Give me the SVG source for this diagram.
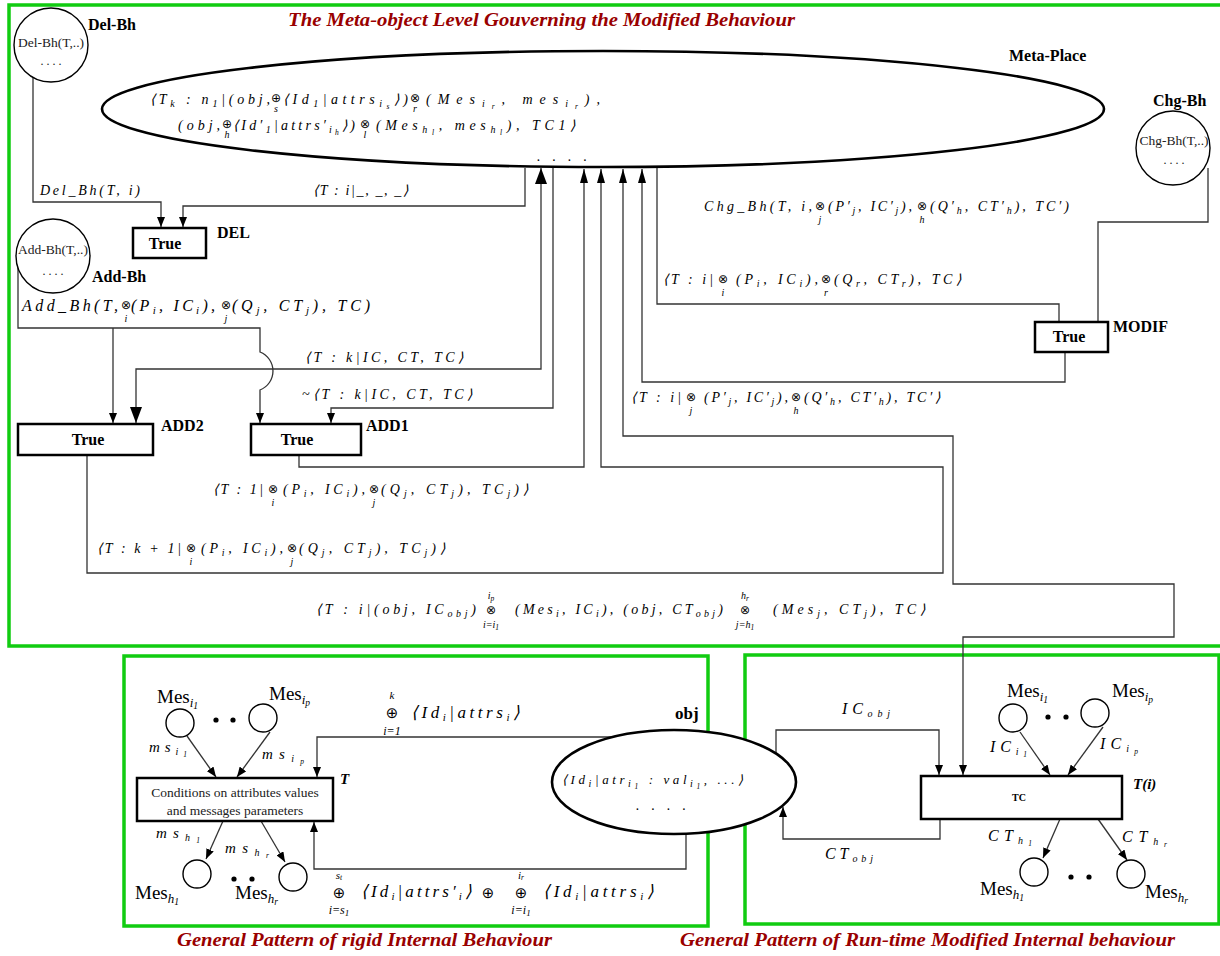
<svg xmlns="http://www.w3.org/2000/svg" width="1220" height="956" viewBox="0 0 1220 956">
<style>
.m{font-family:"Liberation Serif",serif;font-style:italic;font-size:14px;fill:#000}
.mb{font-family:"Liberation Serif",serif;font-style:italic;font-size:16px;fill:#000}
.s{font-size:10px}
.ss{font-size:7.5px}
.sb{font-size:11px}
.u{font-family:"Liberation Serif",serif;font-style:italic;font-size:10px;text-anchor:middle}
.ub{font-family:"Liberation Serif",serif;font-style:italic;font-size:12px;text-anchor:middle}
.op{font-family:"DejaVu Sans",sans-serif;font-size:12px;text-anchor:middle}
.opb{font-family:"DejaVu Sans",sans-serif;font-size:15px;text-anchor:middle}
.lbl{font-family:"Liberation Serif",serif;font-weight:bold;font-size:16px}
.tr{font-family:"Liberation Serif",serif;font-weight:bold;font-size:16px;text-anchor:middle}
.ct{font-family:"Liberation Serif",serif;font-size:14px;text-anchor:middle;fill:#222}
.rm{font-family:"Liberation Serif",serif;font-size:19px}
.i1{font-style:italic;font-size:13px}
.i2{font-style:italic;font-size:9.5px}
.cap{font-family:"Liberation Serif",serif;font-weight:bold;font-style:italic;font-size:18px;fill:#990000}
.green{fill:none;stroke:#11cc11;stroke-width:3.5}
.box{fill:#fff;stroke:#000;stroke-width:2.5}
.pl{fill:#fff;stroke:#000;stroke-width:1.4}
.big{fill:#fff;stroke:#000;stroke-width:2.6}
.c{fill:none;stroke:#333;stroke-width:1.3}
</style>
<defs>
<marker id="a" markerUnits="userSpaceOnUse" markerWidth="10" markerHeight="8" refX="10" refY="4" orient="auto"><path d="M0,0L10,4L0,8z" fill="#000"/></marker>
<marker id="aM" markerUnits="userSpaceOnUse" markerWidth="14" markerHeight="8" refX="14" refY="4" orient="auto-start-reverse"><path d="M0,0L14,4L0,8z" fill="#000"/></marker>
<marker id="aL" markerUnits="userSpaceOnUse" markerWidth="16" markerHeight="12" refX="16" refY="6" orient="auto-start-reverse"><path d="M0,0L16,6L0,12z" fill="#000"/></marker>
</defs>
<rect width="1220" height="956" fill="#fff"/>

<!-- frames -->
<rect class="green" x="9" y="5" width="1216" height="641"/>
<rect class="green" x="124" y="656" width="584" height="270"/>
<rect class="green" x="745" y="655" width="474" height="269"/>

<text class="cap" x="288" y="26" textLength="507" lengthAdjust="spacingAndGlyphs">The Meta-object Level Gouverning the Modified Behaviour</text>
<text class="cap" x="177" y="946" textLength="375" lengthAdjust="spacingAndGlyphs">General Pattern of rigid Internal Behaviour</text>
<text class="cap" x="680" y="946" textLength="495" lengthAdjust="spacingAndGlyphs">General Pattern of Run-time Modified Internal behaviour</text>

<!-- connectors -->
<g id="connectors">
<path class="c" d="M33,77V202H161V227" marker-end="url(#a)"/>
<path class="c" d="M525,168V206H183V227" marker-end="url(#a)"/>
<path class="c" d="M18,264V328H260V352A20.4,20.4 0 0 1 260,390V423" marker-end="url(#a)"/>
<path class="c" d="M113,328V423" marker-end="url(#a)"/>
<path class="c" d="M541,168V369H136V423" marker-start="url(#aL)" marker-end="url(#aL)"/>
<path class="c" d="M553,168V408H331V423" marker-end="url(#a)"/>
<path class="c" d="M299,455V467H584V169" marker-end="url(#aM)"/>
<path class="c" d="M87,455V573H943V467H601V169" marker-end="url(#aM)"/>
<path class="c" d="M623,169V436H953V584H1174V637H963V775" marker-start="url(#aM)" marker-end="url(#a)"/>
<path class="c" d="M657,166V304H1059V322"/>
<path class="c" d="M1208,168V222H1098V322"/>
<path class="c" d="M1065,352V382H642V169" marker-end="url(#aM)"/>
<path class="c" d="M187,736L216,777" marker-end="url(#a)"/>
<path class="c" d="M270,732L237,777" marker-end="url(#a)"/>
<path class="c" d="M223,821L206,859" marker-end="url(#a)"/>
<path class="c" d="M261,821L285,862" marker-end="url(#a)"/>
<path class="c" d="M613,737H317V777" marker-end="url(#a)"/>
<path class="c" d="M686,830V869H314V822" marker-end="url(#a)"/>
<path class="c" d="M776,753V730H939V775" marker-end="url(#a)"/>
<path class="c" d="M940,819V839H783V807" marker-end="url(#a)"/>
<path class="c" d="M1020,732L1050,775" marker-end="url(#a)"/>
<path class="c" d="M1103,727L1068,775" marker-end="url(#a)"/>
<path class="c" d="M1060,819L1043,858" marker-end="url(#a)"/>
<path class="c" d="M1098,819L1127,860" marker-end="url(#a)"/>
</g>

<!-- connector labels -->
<g id="arc-labels">
<text class="m" x="40" y="195" textLength="100" lengthAdjust="spacing">Del_Bh(T, i)</text>
<text class="m" x="313" y="195" textLength="95" lengthAdjust="spacing">⟨T : i|_, _, _⟩</text>

<text class="m" x="704" y="211" textLength="108" lengthAdjust="spacing">Chg_Bh(T, i,</text>
<text class="op" x="820" y="210">⊗</text><text class="u" x="820" y="223">j</text>
<text class="m" x="828" y="211" textLength="84" lengthAdjust="spacing">(P′<tspan class="s" dy="3">j</tspan><tspan dy="-3">, IC′</tspan><tspan class="s" dy="3">j</tspan><tspan dy="-3">),</tspan></text>
<text class="op" x="922" y="210">⊗</text><text class="u" x="922" y="223">h</text>
<text class="m" x="930" y="211" textLength="139" lengthAdjust="spacing">(Q′<tspan class="s" dy="3">h</tspan><tspan dy="-3">, CT′</tspan><tspan class="s" dy="3">h</tspan><tspan dy="-3">), TC′)</tspan></text>

<text class="m" x="663" y="284" textLength="50" lengthAdjust="spacing">⟨T : i|</text>
<text class="op" x="723" y="283">⊗</text><text class="u" x="723" y="296">i</text>
<text class="m" x="736" y="284" textLength="82" lengthAdjust="spacing">(P<tspan class="s" dy="3">i</tspan><tspan dy="-3">, IC</tspan><tspan class="s" dy="3">i</tspan><tspan dy="-3">),</tspan></text>
<text class="op" x="826" y="283">⊗</text><text class="u" x="826" y="296">r</text>
<text class="m" x="834" y="284" textLength="127" lengthAdjust="spacing">(Q<tspan class="s" dy="3">r</tspan><tspan dy="-3">, CT</tspan><tspan class="s" dy="3">r</tspan><tspan dy="-3">), TC⟩</tspan></text>

<text class="m" x="631" y="402" textLength="50" lengthAdjust="spacing">⟨T : i|</text>
<text class="op" x="691" y="401">⊗</text><text class="u" x="691" y="414">j</text>
<text class="m" x="704" y="402" textLength="84" lengthAdjust="spacing">(P′<tspan class="s" dy="3">j</tspan><tspan dy="-3">, IC′</tspan><tspan class="s" dy="3">j</tspan><tspan dy="-3">),</tspan></text>
<text class="op" x="796" y="401">⊗</text><text class="u" x="796" y="414">h</text>
<text class="m" x="804" y="402" textLength="136" lengthAdjust="spacing">(Q′<tspan class="s" dy="3">h</tspan><tspan dy="-3">, CT′</tspan><tspan class="s" dy="3">h</tspan><tspan dy="-3">), TC′⟩</tspan></text>

<text class="mb" x="22" y="311" textLength="96" lengthAdjust="spacing">Add_Bh(T,</text>
<text class="op" x="126" y="309">⊗</text><text class="u" x="126" y="322">i</text>
<text class="mb" x="131" y="311" textLength="84" lengthAdjust="spacing">(P<tspan class="sb" dy="3">i</tspan><tspan dy="-3">, IC</tspan><tspan class="sb" dy="3">i</tspan><tspan dy="-3">),</tspan></text>
<text class="op" x="226" y="309">⊗</text><text class="u" x="226" y="322">j</text>
<text class="mb" x="232" y="311" textLength="138" lengthAdjust="spacing">(Q<tspan class="sb" dy="3">j</tspan><tspan dy="-3">, CT</tspan><tspan class="sb" dy="3">j</tspan><tspan dy="-3">), TC)</tspan></text>

<text class="m" x="305" y="362" textLength="158" lengthAdjust="spacing">⟨T : k|IC, CT, TC⟩</text>
<text class="m" x="302" y="399" textLength="170" lengthAdjust="spacing">~⟨T : k|IC, CT, TC⟩</text>

<text class="m" x="213" y="494" textLength="50" lengthAdjust="spacing">⟨T : 1|</text>
<text class="op" x="273" y="493">⊗</text><text class="u" x="273" y="506">i</text>
<text class="m" x="283" y="494" textLength="82" lengthAdjust="spacing">(P<tspan class="s" dy="3">i</tspan><tspan dy="-3">, IC</tspan><tspan class="s" dy="3">i</tspan><tspan dy="-3">),</tspan></text>
<text class="op" x="374" y="493">⊗</text><text class="u" x="374" y="506">j</text>
<text class="m" x="381" y="494" textLength="147" lengthAdjust="spacing">(Q<tspan class="s" dy="3">j</tspan><tspan dy="-3">, CT</tspan><tspan class="s" dy="3">j</tspan><tspan dy="-3">), TC</tspan><tspan class="s" dy="3">j</tspan><tspan dy="-3">)⟩</tspan></text>

<text class="m" x="97" y="553" textLength="84" lengthAdjust="spacing">⟨T : k + 1|</text>
<text class="op" x="191" y="552">⊗</text><text class="u" x="191" y="565">i</text>
<text class="m" x="201" y="553" textLength="82" lengthAdjust="spacing">(P<tspan class="s" dy="3">i</tspan><tspan dy="-3">, IC</tspan><tspan class="s" dy="3">i</tspan><tspan dy="-3">),</tspan></text>
<text class="op" x="292" y="552">⊗</text><text class="u" x="292" y="565">j</text>
<text class="m" x="299" y="553" textLength="146" lengthAdjust="spacing">(Q<tspan class="s" dy="3">j</tspan><tspan dy="-3">, CT</tspan><tspan class="s" dy="3">j</tspan><tspan dy="-3">), TC</tspan><tspan class="s" dy="3">j</tspan><tspan dy="-3">)⟩</tspan></text>

<text class="m" x="316" y="614" textLength="160" lengthAdjust="spacing">⟨T : i|(obj, IC<tspan class="s" dy="3">obj</tspan><tspan dy="-3">)</tspan></text>
<text class="u" x="491" y="599">i<tspan class="ss" dy="2">p</tspan></text>
<text class="op" x="491" y="614">⊗</text>
<text class="u" x="491" y="628">i=i<tspan class="ss" dy="2">1</tspan></text>
<text class="m" x="515" y="614" textLength="208" lengthAdjust="spacing">(Mes<tspan class="s" dy="3">i</tspan><tspan dy="-3">, IC</tspan><tspan class="s" dy="3">i</tspan><tspan dy="-3">), (obj, CT</tspan><tspan class="s" dy="3">obj</tspan><tspan dy="-3">)</tspan></text>
<text class="u" x="745" y="599">h<tspan class="ss" dy="2">r</tspan></text>
<text class="op" x="745" y="614">⊗</text>
<text class="u" x="745" y="628">j=h<tspan class="ss" dy="2">1</tspan></text>
<text class="m" x="773" y="614" textLength="152" lengthAdjust="spacing">(Mes<tspan class="s" dy="3">j</tspan><tspan dy="-3">, CT</tspan><tspan class="s" dy="3">j</tspan><tspan dy="-3">), TC⟩</tspan></text>

<!-- bottom-left labels -->
<text class="ub" x="392" y="699" style="font-size:11px">k</text>
<text class="opb" x="392" y="718">⊕</text>
<text class="ub" x="392" y="735">i=1</text>
<text class="mb" x="411" y="718" style="font-size:17px" textLength="109" lengthAdjust="spacing">⟨Id<tspan class="sb" dy="3">i</tspan><tspan dy="-3">|attrs</tspan><tspan class="sb" dy="3">i</tspan><tspan dy="-3">⟩</tspan></text>
<text class="ub" x="339" y="879" style="font-size:11px">s<tspan class="ss" dy="1">t</tspan></text>
<text class="opb" x="339" y="898">⊕</text>
<text class="ub" x="339" y="914">i=s<tspan style="font-size:9px" dy="2">1</tspan></text>
<text class="mb" x="361" y="897" style="font-size:17px" textLength="111" lengthAdjust="spacing">⟨Id<tspan class="sb" dy="3">i</tspan><tspan dy="-3">|attrs′</tspan><tspan class="sb" dy="3">i</tspan><tspan dy="-3">⟩</tspan></text>
<text class="opb" x="488" y="898">⊕</text>
<text class="ub" x="521" y="879" style="font-size:11px">i<tspan class="ss" dy="1">r</tspan></text>
<text class="opb" x="521" y="898">⊕</text>
<text class="ub" x="521" y="914">i=i<tspan style="font-size:9px" dy="2">1</tspan></text>
<text class="mb" x="543" y="897" style="font-size:17px" textLength="111" lengthAdjust="spacing">⟨Id<tspan class="sb" dy="3">i</tspan><tspan dy="-3">|attrs</tspan><tspan class="sb" dy="3">i</tspan><tspan dy="-3">⟩</tspan></text>

<text class="m" x="149" y="752" style="font-size:15px" textLength="38" lengthAdjust="spacing">ms<tspan class="s" dy="3">i</tspan><tspan class="ss" dy="2">1</tspan></text>
<text class="m" x="262" y="759" style="font-size:15px" textLength="42" lengthAdjust="spacing">ms<tspan class="s" dy="3">i</tspan><tspan class="ss" dy="2">p</tspan></text>
<text class="m" x="156" y="838" style="font-size:15px" textLength="44" lengthAdjust="spacing">ms<tspan class="s" dy="3">h</tspan><tspan class="ss" dy="2">1</tspan></text>
<text class="m" x="225" y="853" style="font-size:15px" textLength="44" lengthAdjust="spacing">ms<tspan class="s" dy="3">h</tspan><tspan class="ss" dy="2">r</tspan></text>

<!-- bottom-right labels -->
<text class="m" x="842" y="714" style="font-size:16px" textLength="48" lengthAdjust="spacing">IC<tspan class="s" dy="3">obj</tspan></text>
<text class="m" x="825" y="859" style="font-size:16px" textLength="48" lengthAdjust="spacing">CT<tspan class="s" dy="3">obj</tspan></text>
<text class="m" x="990" y="752" style="font-size:16px" textLength="37" lengthAdjust="spacing">IC<tspan class="s" dy="3">i</tspan><tspan class="ss" dy="2">1</tspan></text>
<text class="m" x="1100" y="749" style="font-size:16px" textLength="38" lengthAdjust="spacing">IC<tspan class="s" dy="3">i</tspan><tspan class="ss" dy="2">p</tspan></text>
<text class="m" x="988" y="841" style="font-size:16px" textLength="44" lengthAdjust="spacing">CT<tspan class="s" dy="3">h</tspan><tspan class="ss" dy="2">1</tspan></text>
<text class="m" x="1122" y="842" style="font-size:16px" textLength="45" lengthAdjust="spacing">CT<tspan class="s" dy="3">h</tspan><tspan class="ss" dy="2">r</tspan></text>
</g>

<!-- nodes: meta level -->
<g id="del-bh">
<circle class="pl" cx="51" cy="45" r="37"/>
<text class="ct" x="51" y="47" style="font-size:13.5px">Del-Bh(T,..)</text>
<text class="ct" x="51" y="65" style="font-size:12px">. . . .</text>
<text class="lbl" x="88" y="30">Del-Bh</text>
</g>
<g id="add-bh">
<circle class="pl" cx="53" cy="256" r="37"/>
<text class="ct" x="53" y="254" style="font-size:13.5px">Add-Bh(T,..)</text>
<text class="ct" x="53" y="275" style="font-size:12px">. . . .</text>
<text class="lbl" x="92" y="282">Add-Bh</text>
</g>
<g id="chg-bh">
<circle class="pl" cx="1173" cy="148" r="37"/>
<text class="ct" x="1174" y="145" style="font-size:13.5px">Chg-Bh(T,..)</text>
<text class="ct" x="1174" y="164" style="font-size:12px">. . . .</text>
<text class="lbl" x="1153" y="106">Chg-Bh</text>
</g>
<g id="meta-place">
<ellipse cx="603" cy="109" rx="501" ry="58" fill="none" stroke="#000" stroke-width="2.6"/>
<text class="lbl" x="1009" y="61">Meta-Place</text>
<text class="m" x="150" y="104" textLength="120" lengthAdjust="spacing">⟨T<tspan class="s" dy="3">k</tspan><tspan dy="-3"> : n</tspan><tspan class="s" dy="3">1</tspan><tspan dy="-3">|(obj,</tspan></text>
<text class="op" x="276" y="102">⊕</text><text class="u" x="276" y="112">s</text>
<text class="m" x="283" y="104" textLength="125" lengthAdjust="spacing">⟨Id<tspan class="s" dy="3">1</tspan><tspan dy="-3">|attrs</tspan><tspan class="s" dy="3">i</tspan><tspan class="ss" dy="2">s</tspan><tspan dy="-5">⟩)</tspan></text>
<text class="op" x="415" y="102">⊗</text><text class="u" x="415" y="112">r</text>
<text class="m" x="426" y="104" textLength="174" lengthAdjust="spacing">(Mes<tspan class="s" dy="3">i</tspan><tspan class="ss" dy="2">r</tspan><tspan dy="-5">, mes</tspan><tspan class="s" dy="3">i</tspan><tspan class="ss" dy="2">r</tspan><tspan dy="-5">),</tspan></text>
<text class="m" x="178" y="130" textLength="42" lengthAdjust="spacing">(obj,</text>
<text class="op" x="227" y="128">⊕</text><text class="u" x="227" y="138">h</text>
<text class="m" x="233" y="130" textLength="122" lengthAdjust="spacing">⟨Id′<tspan class="s" dy="3">1</tspan><tspan dy="-3">|attrs′</tspan><tspan class="s" dy="3">i</tspan><tspan class="ss" dy="2">h</tspan><tspan dy="-5">⟩)</tspan></text>
<text class="op" x="365" y="128">⊗</text><text class="u" x="365" y="138">l</text>
<text class="m" x="376" y="130" textLength="199" lengthAdjust="spacing">(Mes<tspan class="s" dy="3">h</tspan><tspan class="ss" dy="2">l</tspan><tspan dy="-5">, mes</tspan><tspan class="s" dy="3">h</tspan><tspan class="ss" dy="2">l</tspan><tspan dy="-5">),  TC1⟩</tspan></text>
<text class="m" x="537" y="161" textLength="50" lengthAdjust="spacing">. . . .</text>
</g>
<g id="del">
<rect class="box" x="133" y="228" width="73" height="30"/>
<text class="tr" x="165" y="249">True</text>
<text class="lbl" x="217" y="238">DEL</text>
</g>
<g id="add2">
<rect class="box" x="18" y="424" width="135" height="31"/>
<text class="tr" x="88" y="445">True</text>
<text class="lbl" x="161" y="431">ADD2</text>
</g>
<g id="add1">
<rect class="box" x="251" y="424" width="110" height="31"/>
<text class="tr" x="297" y="445">True</text>
<text class="lbl" x="366" y="431">ADD1</text>
</g>
<g id="modif">
<rect class="box" x="1035" y="322" width="73" height="30"/>
<text class="tr" x="1069" y="342">True</text>
<text class="lbl" x="1113" y="332">MODIF</text>
</g>

<!-- rigid pattern -->
<g id="obj">
<ellipse class="big" cx="674" cy="782" rx="122" ry="52"/>
<text class="m" x="562" y="784" style="font-size:13px" textLength="181" lengthAdjust="spacing">⟨Id<tspan class="s" dy="3">i</tspan><tspan dy="-3">|atr</tspan><tspan class="s" dy="3">i</tspan><tspan class="ss" dy="2">1</tspan><tspan dy="-5"> : val</tspan><tspan class="s" dy="3">i</tspan><tspan class="ss" dy="2">1</tspan><tspan dy="-5">, ...⟩</tspan></text>
<text class="m" x="636" y="810" textLength="50" lengthAdjust="spacing">. . . .</text>
<text class="lbl" x="675" y="719" style="font-size:17px">obj</text>
</g>
<g id="t-rigid">
<rect class="box" x="137" y="778" width="196" height="43"/>
<text class="ct" x="235" y="797" style="font-size:13.5px">Conditions on attributes values</text>
<text class="ct" x="235" y="815" style="font-size:13.5px">and messages parameters</text>
<text class="lbl" x="340" y="784" style="font-style:italic;font-size:15px">T</text>
</g>
<g id="mes-in-left">
<circle class="pl" cx="180" cy="723" r="14"/>
<circle class="pl" cx="263" cy="718" r="14"/>
<circle cx="216" cy="720" r="2.6"/><circle cx="233" cy="720" r="2.6"/>
<text class="rm" x="157" y="703">Mes<tspan class="i1" dy="4">i</tspan><tspan class="i2" dy="2">1</tspan></text>
<text class="rm" x="269" y="700">Mes<tspan class="i1" dy="4">i</tspan><tspan class="i2" dy="2">p</tspan></text>
</g>
<g id="mes-out-left">
<circle class="pl" cx="197" cy="874" r="14"/>
<circle class="pl" cx="293" cy="877" r="14"/>
<circle cx="234" cy="879" r="2.6"/><circle cx="252" cy="879" r="2.6"/>
<text class="rm" x="135" y="899">Mes<tspan class="i1" dy="4">h</tspan><tspan class="i2" dy="2">1</tspan></text>
<text class="rm" x="235" y="899">Mes<tspan class="i1" dy="4">h</tspan><tspan class="i2" dy="2">r</tspan></text>
</g>

<!-- run-time pattern -->
<g id="t-runtime">
<rect class="box" x="921" y="776" width="201" height="43"/>
<text class="tr" x="1019" y="801" style="font-size:10px">TC</text>
<text class="lbl" x="1133" y="789" style="font-style:italic;font-size:15px">T(i)</text>
</g>
<g id="mes-in-right">
<circle class="pl" cx="1013" cy="718" r="14"/>
<circle class="pl" cx="1095" cy="713" r="14"/>
<circle cx="1048" cy="717" r="2.6"/><circle cx="1066" cy="717" r="2.6"/>
<text class="rm" x="1007" y="697">Mes<tspan class="i1" dy="4">i</tspan><tspan class="i2" dy="2">1</tspan></text>
<text class="rm" x="1112" y="697">Mes<tspan class="i1" dy="4">i</tspan><tspan class="i2" dy="2">p</tspan></text>
</g>
<g id="mes-out-right">
<circle class="pl" cx="1034" cy="872" r="14"/>
<circle class="pl" cx="1131" cy="874" r="14"/>
<circle cx="1071" cy="877" r="2.6"/><circle cx="1089" cy="877" r="2.6"/>
<text class="rm" x="980" y="895">Mes<tspan class="i1" dy="4">h</tspan><tspan class="i2" dy="2">1</tspan></text>
<text class="rm" x="1145" y="898">Mes<tspan class="i1" dy="4">h</tspan><tspan class="i2" dy="2">r</tspan></text>
</g>
</svg>
